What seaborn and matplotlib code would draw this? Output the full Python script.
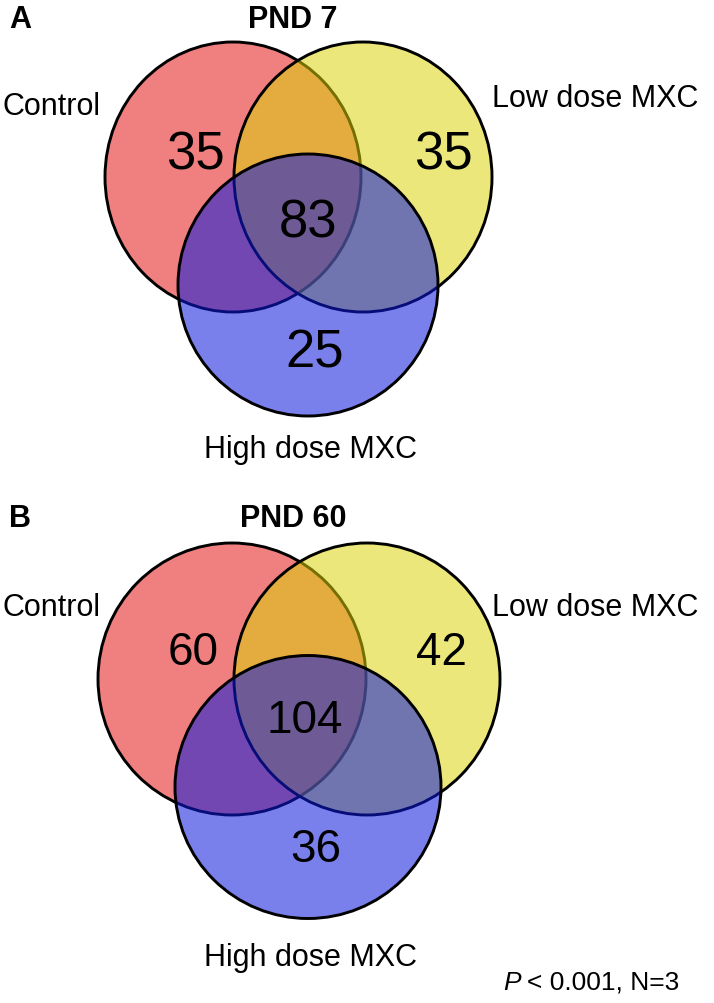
import matplotlib
matplotlib.use("Agg")
import matplotlib.pyplot as plt
from matplotlib.patches import Ellipse
import seaborn as sns

# data
panel_letters = ["A", "B"]
panel_titles = ["PND 7", "PND 60"]
set_names = ["Control", "Low dose MXC", "High dose MXC"]
only_counts = [[35, 35, 25], [60, 42, 36]]   # control only, low only, high only
shared_counts = [83, 104]                    # in all three
p_note = "< 0.001, N=3"

# colours (fill, alpha) for red / yellow / blue sets
fills = [((240/255, 128/255, 128/255), 1.0),
         ((219/255, 211/255, 4/255), 0.53),
         ((13/255, 24/255, 220/255), 0.55)]

# layout in pixels (x, y, width, height) per panel
ellipses = [
    [(233, 178, 256, 270), (363, 178, 258, 270), (308, 286, 260, 262)],
    [(232, 680, 268, 272), (367, 680, 266, 272), (308, 788, 266, 263)],
]
# number positions (x, baseline)
num_pos = [
    [(195, 170), (443, 170), (315, 368), (308, 238)],
    [(193, 665), (441, 665), (316, 862), (305, 733)],
]
label_pos = [
    [(2, 115, "left"), (492, 107, "left"), (310, 458, "center")],
    [(2, 616, "left"), (492, 616, "left"), (310, 966, "center")],
]
head_y = [28, 527]
num_size = [38, 33]

sns.set_theme(style="white")
plt.rcParams["font.family"] = ["Liberation Sans", "DejaVu Sans"]
plt.rcParams["text.color"] = "black"

fig = plt.figure(figsize=(7.14, 10.04), dpi=100)
ax = fig.add_axes([0, 0, 1, 1])
ax.set_xlim(0, 714)
ax.set_ylim(1004, 0)
ax.axis("off")

for p in range(2):
    for (x, y, w, h), (col, a) in zip(ellipses[p], fills):
        ax.add_patch(Ellipse((x, y), w, h, facecolor=(*col, a),
                             edgecolor="black", linewidth=2.1))
    vals = only_counts[p] + [shared_counts[p]]
    for (x, y), v in zip(num_pos[p], vals):
        ax.text(x, y, str(v), fontsize=num_size[p], ha="center",
                va="baseline")
    for (x, y, ha), name in zip(label_pos[p], set_names):
        ax.text(x, y, name, fontsize=22, ha=ha, va="baseline")
    ax.text(9, head_y[p], panel_letters[p], fontsize=22, fontweight="bold",
            va="baseline")
    ax.text(293, head_y[p], panel_titles[p], fontsize=22, fontweight="bold",
            ha="center", va="baseline")

ax.text(503, 990, "P", fontsize=19, va="baseline", fontstyle="italic")
ax.text(527, 990, p_note, fontsize=19, va="baseline")

fig.savefig("out.png", dpi=100)
